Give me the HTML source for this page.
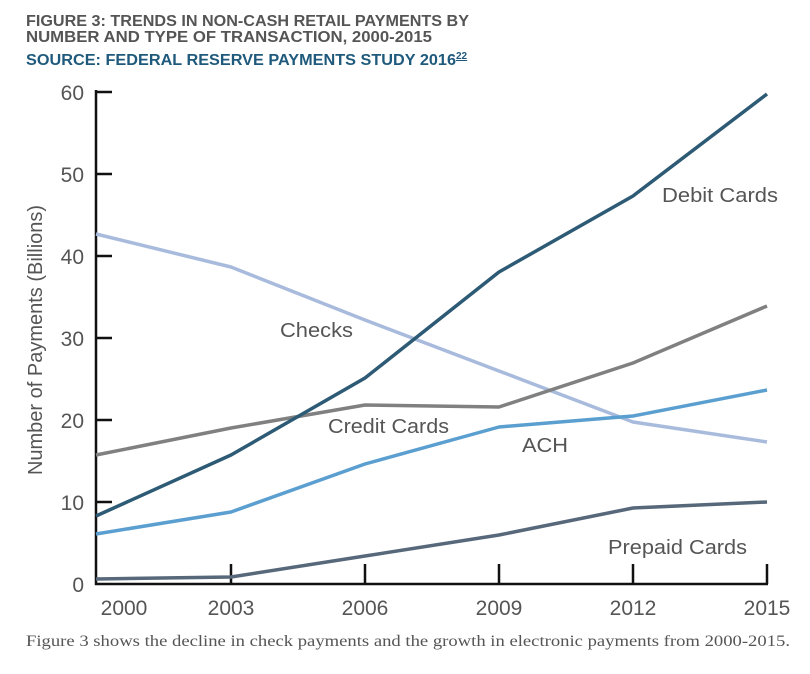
<!DOCTYPE html>
<html><head><style>
body{margin:0;background:#fff;width:810px;height:669px;overflow:hidden;font-family:"Liberation Sans",sans-serif}
</style></head><body>
<svg width="810" height="669" xmlns="http://www.w3.org/2000/svg">
<g font-family="Liberation Sans, sans-serif" font-weight="bold" font-size="16">
<text x="26" y="26" fill="#555" textLength="443" lengthAdjust="spacingAndGlyphs">FIGURE 3: TRENDS IN NON-CASH RETAIL PAYMENTS BY</text>
<text x="26" y="42" fill="#555" textLength="406" lengthAdjust="spacingAndGlyphs">NUMBER AND TYPE OF TRANSACTION, 2000-2015</text>
<text x="26" y="65" fill="#1f5a7c"><tspan textLength="430" lengthAdjust="spacingAndGlyphs">SOURCE: FEDERAL RESERVE PAYMENTS STUDY 2016</tspan><tspan font-size="10" dy="-6" text-decoration="underline">22</tspan></text>
</g>
<g stroke="#111" stroke-width="2.5" fill="none">
<path d="M96 90 V584 H768"/>
<path d="M96 92h16M96 174h16M96 256h16M96 338h16M96 420h16M96 502h16"/>
<path d="M231 584v-20M365 584v-20M499 584v-20M633 584v-20M767 584v-20"/>
</g>
<g font-size="21" fill="#555" text-anchor="end">
<text x="84" y="100">60</text><text x="84" y="182">50</text><text x="84" y="264">40</text>
<text x="84" y="346">30</text><text x="84" y="428">20</text><text x="84" y="510">10</text><text x="84" y="592">0</text>
</g>
<g font-size="21" fill="#555" text-anchor="middle">
<text x="124" y="615">2000</text><text x="231" y="615">2003</text><text x="365" y="615">2006</text>
<text x="499" y="615">2009</text><text x="633" y="615">2012</text><text x="767" y="615">2015</text>
</g>
<text transform="translate(42,340) rotate(-90)" font-size="20" fill="#555" text-anchor="middle">Number of Payments (Billions)</text>
<g fill="none" stroke-width="3.5" stroke-linejoin="round">
<polyline stroke="#a8bbdd" points="96,234 231,267 365,320 499,371 633,422 767,442"/>
<polyline stroke="#808080" points="96,455 231,428 365,405 499,407 633,363 767,306"/>
<polyline stroke="#5a9fd0" points="96,534 231,512 365,464 499,427 633,416 767,390"/>
<polyline stroke="#56687a" points="96,579 231,577 365,556 499,535 633,508 767,502"/>
<polyline stroke="#2d5a75" points="96,516 231,455 365,378 499,272 633,196 767,94"/>
</g>
<g font-size="20" fill="#555">
<text x="662" y="202" textLength="116" lengthAdjust="spacingAndGlyphs">Debit Cards</text>
<text x="280" y="337" textLength="73" lengthAdjust="spacingAndGlyphs">Checks</text>
<text x="328" y="433" textLength="121" lengthAdjust="spacingAndGlyphs">Credit Cards</text>
<text x="522" y="452" textLength="46" lengthAdjust="spacingAndGlyphs">ACH</text>
<text x="608" y="554" textLength="139" lengthAdjust="spacingAndGlyphs">Prepaid Cards</text>
</g>
<text x="26" y="646" font-family="Liberation Serif, serif" font-size="16" fill="#555" textLength="764" lengthAdjust="spacingAndGlyphs">Figure 3 shows the decline in check payments and the growth in electronic payments from 2000-2015.</text>
</svg>
</body></html>
